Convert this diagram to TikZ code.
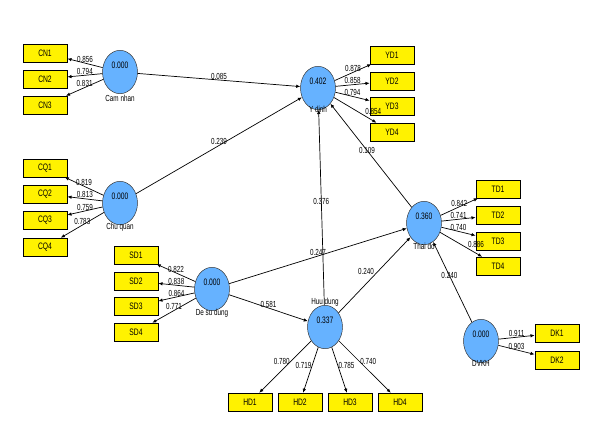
\documentclass[tikz,border=0pt]{standalone}
\usepackage{fontspec}
\setmainfont{Liberation Sans}[FakeStretch=0.72]
\usepackage{xcolor}
\usetikzlibrary{positioning,arrows.meta,shapes.geometric}
\definecolor{latentblue}{RGB}{102,178,255}

\begin{document}
\begin{tikzpicture}[
    x=0.03cm, y=-0.03cm,
    item/.style={rectangle, draw, fill=yellow, minimum width=1.33cm, minimum height=0.54cm, inner sep=0pt, font=\fontsize{8}{9}\selectfont},
    latent/.style={ellipse, draw=black!80, fill=latentblue, minimum width=1.05cm, minimum height=1.3cm, inner sep=1pt, text depth=12pt, font=\fontsize{8}{9}\selectfont},
    conname/.style={font=\fontsize{7.5}{8}\selectfont, inner sep=1pt},
    arrow/.style={->, >={Latex[length=3.5pt,width=3pt]}, semithick},
    lbl/.style={font=\fontsize{7.5}{8}\selectfont, inner sep=0.3pt}
  ]
  \useasboundingbox (0,0) rectangle (590,446);

  % Latent constructs
  \node[latent, label={[conname, label distance=0pt]below:Cam nhan}] (camnhan) at (120,72) {0.000};
  \node[latent, label={[conname, label distance=-3pt]below:Chu quan}] (chuquan) at (120,203) {0.000};
  \node[latent, label={[conname, label distance=-3pt]below:De su dung}] (desudung) at (212,289) {0.000};
  \node[latent, label={[conname, label distance=-4pt]below:Y dinh}] (ydinh) at (318,88) {0.402};
  \node[latent, label={[conname, label distance=-2pt]above:Huu dung}] (huudung) at (325,327) {0.337};
  \node[latent, label={[conname, label distance=-3pt]below:Thai do}] (thaido) at (424,223) {0.360};
  \node[latent, label={[conname, label distance=-3pt]below:DVKH}] (dvkh) at (481,341) {0.000};

  % Indicators: Cam nhan
  \node[item] (cn1) at (45,53) {CN1};
  \node[item] (cn2) at (45,79) {CN2};
  \node[item] (cn3) at (45,105) {CN3};

  % Indicators: Chu quan
  \node[item] (cq1) at (45,168) {CQ1};
  \node[item] (cq2) at (45,194) {CQ2};
  \node[item] (cq3) at (45,220) {CQ3};
  \node[item] (cq4) at (45,247) {CQ4};

  % Indicators: De su dung
  \node[item] (sd1) at (136,255) {SD1};
  \node[item] (sd2) at (136,281) {SD2};
  \node[item] (sd3) at (136,306) {SD3};
  \node[item] (sd4) at (136,332) {SD4};

  % Indicators: Y dinh
  \node[item] (yd1) at (392,55) {YD1};
  \node[item] (yd2) at (392,81) {YD2};
  \node[item] (yd3) at (392,106) {YD3};
  \node[item] (yd4) at (392,132) {YD4};

  % Indicators: Thai do
  \node[item] (td1) at (498,189) {TD1};
  \node[item] (td2) at (498,215) {TD2};
  \node[item] (td3) at (498,241) {TD3};
  \node[item] (td4) at (498,266) {TD4};

  % Indicators: Huu dung
  \node[item] (hd1) at (250,402) {HD1};
  \node[item] (hd2) at (300,402) {HD2};
  \node[item] (hd3) at (350,402) {HD3};
  \node[item] (hd4) at (400,402) {HD4};

  % Indicators: DVKH
  \node[item] (dk1) at (557,333) {DK1};
  \node[item] (dk2) at (557,360) {DK2};

  % Loadings
  \draw[arrow] (camnhan) -- node[lbl, above] {0.856} (cn1);
  \draw[arrow] (camnhan) -- node[lbl, above] {0.794} (cn2);
  \draw[arrow] (camnhan) -- node[lbl, above] {0.831} (cn3);

  \draw[arrow] (chuquan) -- node[lbl, above] {0.819} (cq1);
  \draw[arrow] (chuquan) -- node[lbl, above] {0.813} (cq2);
  \draw[arrow] (chuquan) -- node[lbl, above] {0.759} (cq3);
  \draw[arrow] (chuquan) -- node[lbl, above] {0.783} (cq4);

  \draw[arrow] (desudung) -- node[lbl, above] {0.822} (sd1);
  \draw[arrow] (desudung) -- node[lbl, above] {0.838} (sd2);
  \draw[arrow] (desudung) -- node[lbl, above] {0.864} (sd3);
  \draw[arrow] (desudung) -- node[lbl, above] {0.771} (sd4);

  \draw[arrow] (ydinh) -- node[lbl, above] {0.878} (yd1);
  \draw[arrow] (ydinh) -- node[lbl, above] {0.858} (yd2);
  \draw[arrow] (ydinh) -- node[lbl, above] {0.794} (yd3);
  \draw[arrow] (ydinh) -- node[lbl, pos=.72, above right] {0.854} (yd4);

  \draw[arrow] (thaido) -- node[lbl, above] {0.842} (td1);
  \draw[arrow] (thaido) -- node[lbl, above] {0.741} (td2);
  \draw[arrow] (thaido) -- node[lbl, above] {0.740} (td3);
  \draw[arrow] (thaido) -- node[lbl, pos=.65, above right] {0.886} (td4);

  \draw[arrow] (huudung) -- node[lbl, pos=.4, left] {0.780} (hd1);
  \draw[arrow] (huudung) -- node[lbl, pos=.4, left] {0.719} (hd2);
  \draw[arrow] (huudung) -- node[lbl, pos=.4, right] {0.785} (hd3);
  \draw[arrow] (huudung) -- node[lbl, pos=.4, right] {0.740} (hd4);

  \draw[arrow] (dvkh) -- node[lbl, above] {0.911} (dk1);
  \draw[arrow] (dvkh) -- node[lbl, above] {0.903} (dk2);

  % Structural paths
  \draw[arrow] (camnhan) -- node[lbl, above] {0.085} (ydinh);
  \draw[arrow] (chuquan) -- node[lbl, above] {0.239} (ydinh);
  \draw[arrow] (desudung) -- node[lbl, above] {0.247} (thaido);
  \draw[arrow] (desudung) -- node[lbl, above] {0.581} (huudung);
  \draw[arrow] (huudung) -- node[lbl, pos=.53] {0.376} (ydinh);
  \draw[arrow] (huudung) -- node[lbl, pos=.55, left=3pt] {0.240} (thaido);
  \draw[arrow] (thaido) -- node[lbl, pos=.55] {0.109} (ydinh);
  \draw[arrow] (dvkh) -- node[lbl, pos=.58] {0.240} (thaido);
\end{tikzpicture}
\end{document}
